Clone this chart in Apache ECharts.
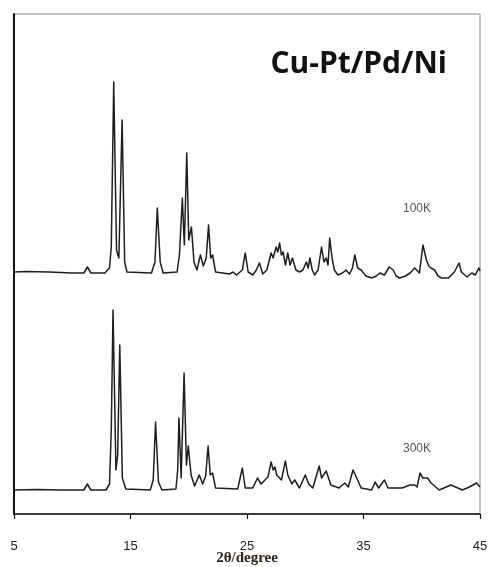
<!DOCTYPE html>
<html>
<head>
<meta charset="utf-8">
<script src="https://cdn.jsdelivr.net/npm/echarts@6/dist/echarts.min.js"></script>
<style>
  html, body { margin: 0; padding: 0; background: #fff; }
  #chart { width: 489px; height: 567px; }
</style>
</head>
<body>
<div id="chart"></div>
<script>
// Powder XRD patterns of Cu-Pt/Pd/Ni, stacked: 100 K trace drawn above the 300 K trace.
// Each point is [2θ (degree), intensity (arb. units, offset for stacking)].
const chartTitle = 'Cu-Pt/Pd/Ni';
const xAxisName = '2θ/degree';
const xTicks = [5, 15, 25, 35, 45];
const traceNames = ['100K', '300K'];

const xrd100K = [
  [5.0,242],[6,242.5],[8,242],[10,241],[11.0,241],[11.3,247],[11.6,241],[12.8,241],[13.2,246],
  [13.35,267],[13.56,432],[13.8,264],[14.0,256],[14.28,394],[14.5,252],[14.7,242],[16.8,241],
  [17.1,252],[17.3,306],[17.55,252],[17.8,241],[19.0,242],[19.2,259],[19.45,316],[19.62,269],
  [19.83,361],[20.0,274],[20.23,287],[20.45,252],[20.7,244],[21.0,259],[21.25,248],[21.5,256],
  [21.7,289],[21.88,256],[22.05,259],[22.3,242],[23.5,240],[23.8,242],[24.1,239],[24.6,244],
  [24.85,261],[25.1,242],[25.5,239],[25.8,244],[26.07,251],[26.35,240],[26.7,244],[27.07,261],
  [27.25,256],[27.5,267],[27.65,262],[27.8,271],[27.95,259],[28.1,262],[28.3,249],[28.5,261],
  [28.7,249],[28.9,256],[29.2,244],[29.5,242],[29.8,244],[30.1,252],[30.25,246],[30.4,256],
  [30.6,244],[30.8,239],[31.1,244],[31.4,267],[31.6,252],[31.8,256],[31.95,249],[32.1,276],
  [32.3,256],[32.5,244],[32.8,239],[33.2,241],[33.5,244],[33.8,240],[34.05,246],[34.25,259],
  [34.5,246],[34.8,244],[35.2,238],[35.7,236],[36.1,238],[36.4,241],[36.8,239],[37.2,247],
  [37.55,244],[37.8,238],[38.1,236],[38.6,238],[39.0,241],[39.4,246],[39.8,241],[40.1,269],
  [40.4,254],[40.6,248],[40.8,246],[41.1,244],[41.4,238],[41.7,236],[42.3,236],[42.8,242],
  [43.2,251],[43.4,242],[43.9,237],[44.3,241],[44.6,239],[44.9,246],[45.0,243]
];

const xrd300K = [
  [5.0,24],[7,24.5],[9,24],[11.0,24],[11.3,30],[11.6,24],[12.9,24],[13.2,30],[13.35,84],
  [13.5,204],[13.75,44],[13.9,59],[14.08,169],[14.3,36],[14.6,25],[16.7,24],[16.95,34],
  [17.15,92],[17.4,32],[17.7,24],[18.9,25],[19.05,44],[19.16,96],[19.35,36],[19.6,141],
  [19.8,49],[19.96,68],[20.2,39],[20.5,28],[20.9,39],[21.2,30],[21.45,38],[21.66,68],
  [21.85,39],[22.04,41],[22.3,26],[24.2,25],[24.6,46],[24.85,26],[25.5,26],[25.9,36],
  [26.2,30],[26.8,37],[27.07,52],[27.25,44],[27.4,47],[27.55,39],[27.7,41],[27.95,34],
  [28.3,53],[28.5,39],[28.65,37],[28.85,30],[29.1,34],[29.5,26],[30.0,39],[30.3,30],
  [30.65,26],[31.2,48],[31.4,36],[31.5,36],[31.8,43],[32.2,29],[32.9,26],[33.4,31],
  [33.7,27],[34.1,44],[34.3,39],[34.8,26],[35.7,24],[36.0,32],[36.3,26],[36.8,34],
  [37.1,26],[38.3,26],[39.0,29],[39.4,29],[39.6,27],[39.85,41],[40.1,36],[40.5,36],
  [40.8,31],[41.5,24],[42.5,29],[42.9,27],[43.5,24],[44.1,27],[44.7,31],[45.0,27]
];

const chart = echarts.init(document.getElementById('chart'), null, { renderer: 'canvas' });

const lineStyle = { color: '#1e1e1e', width: 1.5, join: 'round' };

chart.setOption({
  animation: false,
  backgroundColor: '#fff',
  grid: {
    left: 14, right: 9, top: 14, bottom: 53,
    outerBoundsMode: 'none',
    containLabel: false,
    show: true, borderColor: '#8a8a8a', borderWidth: 1, backgroundColor: 'transparent'
  },
  title: {
    text: chartTitle,
    right: 37, top: 44,
    textStyle: { fontFamily: 'Open Sans', fontWeight: 'bold', fontSize: 30, color: '#111' }
  },
  xAxis: {
    type: 'value',
    min: xTicks[0], max: xTicks[xTicks.length - 1], interval: 10,
    name: xAxisName,
    nameLocation: 'middle',
    nameGap: 37,
    nameMoveOverlap: false,
    nameTextStyle: { fontFamily: 'Liberation Serif', fontWeight: 'bold', fontSize: 15, color: '#2b2418' },
    axisLine: { show: true, lineStyle: { color: '#111', width: 1.5 } },
    axisTick: { show: true, inside: false, length: 5, lineStyle: { color: '#111', width: 1.2 } },
    axisLabel: { margin: 26, fontFamily: 'Liberation Sans', fontSize: 13, color: '#222' },
    splitLine: { show: false }
  },
  yAxis: {
    type: 'value', min: 0, max: 500,
    axisLine: { show: true, lineStyle: { color: '#111', width: 2 } },
    axisTick: { show: false },
    axisLabel: { show: false },
    splitLine: { show: false }
  },
  graphic: [
    { type: 'text', left: 403, top: 203, style: { text: traceNames[0], font: '12px "Liberation Sans"', fill: '#555' } },
    { type: 'text', left: 403, top: 443, style: { text: traceNames[1], font: '12px "Liberation Sans"', fill: '#555' } }
  ],
  series: [
    { name: traceNames[0], type: 'line', data: xrd100K, showSymbol: false, lineStyle: lineStyle, smooth: false },
    { name: traceNames[1], type: 'line', data: xrd300K, showSymbol: false, lineStyle: lineStyle, smooth: false }
  ]
});
</script>
</body>
</html>
